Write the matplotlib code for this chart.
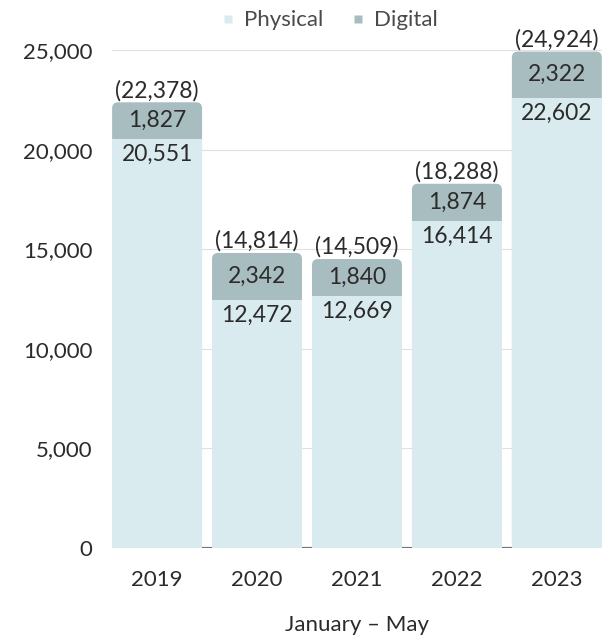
import matplotlib
matplotlib.use("Agg")
import matplotlib.pyplot as plt
from matplotlib.patches import FancyBboxPatch, Rectangle
from matplotlib.lines import Line2D

years = ["2019", "2020", "2021", "2022", "2023"]
physical = [20551, 12472, 12669, 16414, 22602]
digital = [1827, 2342, 1840, 1874, 2322]
totals = [22378, 14814, 14509, 18288, 24924]
yticks = [0, 5000, 10000, 15000, 20000, 25000]

phys_color = "#d9ebee"
dig_color = "#a8bdbf"
text_color = "#2b2b2b"

plt.rcParams["font.family"] = ["Lato", "DejaVu Sans"]

fig = plt.figure(figsize=(6.16, 6.41), dpi=100)
ax = fig.add_axes([0.182, 0.145, 0.795, 0.808])

ymax = 26000
ax.set_xlim(-0.45, 4.45)
ax.set_ylim(0, ymax)

# light gridlines behind the bars
for t in yticks[1:]:
    ax.axhline(t, color="#e0e0e0", lw=0.8, zorder=0)
ax.axhline(0, color="#777777", lw=1.6, zorder=0)

w = 0.9
# data units per pixel, used to keep corner rounding circular
ax_w_px = 0.795 * 616
ax_h_px = 0.808 * 641
x_per_px = 4.9 / ax_w_px
y_per_px = ymax / ax_h_px
aspect = y_per_px / x_per_px
r = 6 * x_per_px

fs = 16.5
for i, (p, d, t) in enumerate(zip(physical, digital, totals)):
    top = p + d
    # full-height rounded bar in the digital colour, physical part laid over it
    ax.add_patch(FancyBboxPatch((i - w / 2, 0), w, top,
                                boxstyle=f"round,pad=0,rounding_size={r}",
                                mutation_aspect=aspect,
                                fc=dig_color, ec="none", zorder=2))
    ax.add_patch(Rectangle((i - w / 2, 0), w, p, fc=phys_color, ec="none", zorder=3))
    ax.text(i, p + d / 2, f"{d:,}", ha="center", va="center",
            fontsize=fs, color=text_color, zorder=4)
    ax.text(i, p - 250, f"{p:,}", ha="center", va="top",
            fontsize=fs, color=text_color, zorder=4)
    ax.text(i, top + 60, f"({t:,})", ha="center", va="bottom",
            fontsize=fs, color=text_color, zorder=4)

ax.set_xticks(range(len(years)))
ax.set_xticklabels(years)
ax.set_yticks(yticks)
ax.set_yticklabels([f"{v:,}" for v in yticks])
ax.tick_params(axis="both", length=0, labelsize=fs - 0.5, colors=text_color)
ax.tick_params(axis="y", pad=14)
ax.tick_params(axis="x", pad=16)
for s in ax.spines.values():
    s.set_visible(False)

ax.set_xlabel("January – May", fontsize=fs - 0.5, color=text_color, labelpad=18)

handles = [Line2D([], [], marker="s", ls="none", ms=5.5, mfc=phys_color, mec="none"),
           Line2D([], [], marker="s", ls="none", ms=5.5, mfc=dig_color, mec="none")]
fig.legend(handles, ["Physical", "Digital"], loc="upper center",
           bbox_to_anchor=(0.535, 1.015), ncol=2, frameon=False,
           fontsize=fs - 0.5, labelcolor="#4a4a4a", handlelength=0.6,
           handletextpad=0.4, columnspacing=1.3)

fig.savefig("out.png", dpi=100)
